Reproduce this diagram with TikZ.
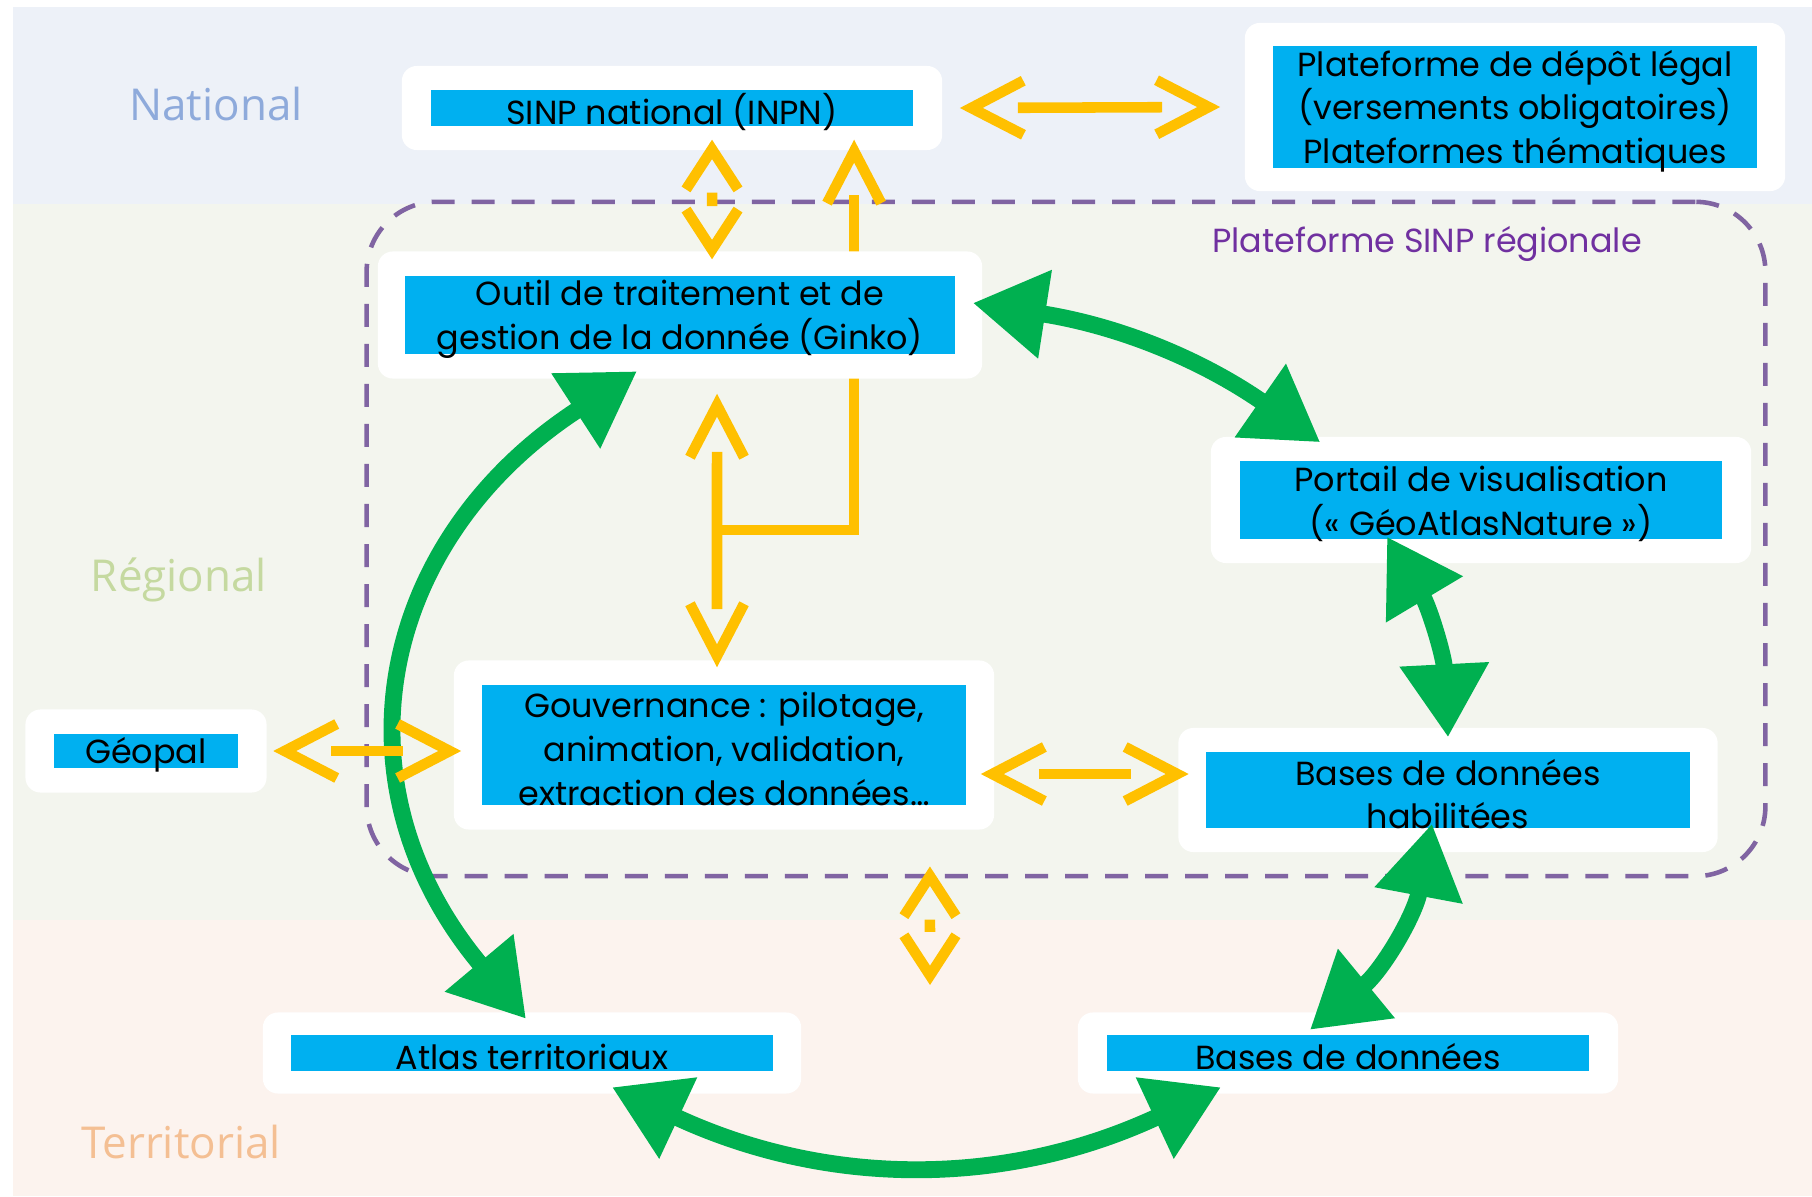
\documentclass[tikz,border=0pt]{standalone}
\usepackage{fontspec}
\setmainfont{Poppins}
\newfontfamily\bandfont{Open Sans}
\usetikzlibrary{arrows.meta,calc,decorations.markings}

\definecolor{natband}{HTML}{EDF1F8}
\definecolor{regband}{HTML}{F3F5EE}
\definecolor{terband}{HTML}{FCF3EE}
\definecolor{natlbl}{HTML}{8EAADB}
\definecolor{reglbl}{HTML}{C5D9A0}
\definecolor{terlbl}{HTML}{F4BF93}
\definecolor{boxblue}{HTML}{00B0F0}
\definecolor{arrgreen}{HTML}{00B050}
\definecolor{arryellow}{HTML}{FFC000}
\definecolor{framepurple}{HTML}{8064A2}
\definecolor{txtpurple}{HTML}{7030A0}

\tikzset{
  ybarb/.tip={Straight Barb[length=0.52cm, width=0.54cm, sharp]},
  ysbarb/.tip={Straight Barb[length=0.4cm, width=0.52cm, sharp]},
  gtri/.tip={Triangle[length=0.73cm, width=0.85cm]},
  wbox/.style={fill=white, rounded corners=0.15cm, inner sep=0pt},
  bbox/.style={fill=boxblue, inner sep=0pt},
  txt/.style={align=center, inner sep=0pt, yshift=-0.04cm, font=\fontsize{9.5}{12.4}\selectfont},
  band/.style={inner sep=0pt, font=\bandfont\fontsize{12.5}{14}\selectfont},
  frame/.style={draw=framepurple, line width=1.3pt, dash pattern=on 0.23cm off 0.17cm, rounded corners=0.7cm, inner sep=0pt},
  glink/.style={draw=arrgreen, line width=4.8pt, {gtri}-{gtri}},
  ylink/.style={draw=arryellow, line width=3pt, shorten <=0.58cm, shorten >=0.58cm,
    postaction={decorate, decoration={markings,
      mark=at position 0 with {\arrowreversed{ybarb}},
      mark=at position 1 with {\arrow{ybarb}}}}},
  ydot/.style={draw=arryellow, line width=3pt, shorten <=0.53cm, shorten >=0.53cm,
    postaction={decorate, decoration={markings,
      mark=at position 0 with {\arrowreversed{ysbarb}},
      mark=at position 1 with {\arrow{ysbarb}}}}},
  yup/.style={draw=arryellow, line width=3pt, shorten >=0.55cm,
    postaction={decorate, decoration={markings,
      mark=at position 1 with {\arrow{ybarb}}}}},
}

\begin{document}
\begin{tikzpicture}[x=0.01cm, y=0.01cm]
  \useasboundingbox (0,0) rectangle (1812,1196);
  % bands
  \fill[natband] (13,992) rectangle (1812,1189);
  \fill[regband] (13,276) rectangle (1812,992);
  \fill[terband] (13,0) rectangle (1812,276);
  \node[band, text=natlbl] (natLbl) at (216,1092) {National};
  \node[band, text=reglbl] (regLbl) at (179,616) {Régional};
  \node[band, text=terlbl] (terLbl) at (181,54) {Territorial};

  % regional platform
  \node[frame, minimum width=13.98cm, minimum height=6.74cm] (plat) at (1066,657) {};
  \node[txt, text=txtpurple] (platLbl) at (1427,956) {Plateforme SINP régionale};

  % boxes
  \node[wbox, minimum width=5.4cm, minimum height=0.84cm] (sinpW) at (672,1088) {};
  \node[bbox, minimum width=4.82cm, minimum height=0.35cm] (sinpB) at (sinpW) {};
  \node[txt] (sinp) at (sinpW) {SINP national (INPN)};

  \node[wbox, minimum width=5.4cm, minimum height=1.68cm] (platW) at (1515,1089) {};
  \node[bbox, minimum width=4.84cm, minimum height=1.22cm] (platB) at (platW) {};
  \node[txt] (depot) at (platW) {Plateforme de dépôt légal\\(versements obligatoires)\\Plateformes thématiques};

  \node[wbox, minimum width=5.4cm, minimum height=1.26cm] (portW) at (1481,696) {};
  \node[bbox, minimum width=4.82cm, minimum height=0.77cm] (portB) at (portW) {};
  \node[txt] (port) at (portW) {Portail de visualisation\\(« GéoAtlasNature »)};

  \node[wbox, minimum width=5.4cm, minimum height=1.69cm] (gouvW) at (724,451) {};
  \node[bbox, minimum width=4.83cm, minimum height=1.19cm] (gouvB) at (gouvW) {};
  \node[txt] (gouv) at (gouvW) {Gouvernance : pilotage,\\animation, validation,\\extraction des données…};

  \node[wbox, minimum width=2.41cm, minimum height=0.83cm] (geoW) at (146,445) {};
  \node[bbox, minimum width=1.84cm, minimum height=0.34cm] (geoB) at (geoW) {};
  \node[txt] (geo) at (geoW) {Géopal};

  \node[wbox, minimum width=5.39cm, minimum height=1.24cm] (habW) at (1448,406) {};
  \node[bbox, minimum width=4.84cm, minimum height=0.75cm] (habB) at (habW) {};
  \node[txt] (hab) at (habW) {Bases de données\\habilitées};

  \node[wbox, minimum width=5.38cm, minimum height=0.81cm] (atlW) at (532,143) {};
  \node[bbox, minimum width=4.82cm, minimum height=0.35cm] (atlB) at (atlW) {};
  \node[txt] (atl) at (atlW) {Atlas territoriaux};

  \node[wbox, minimum width=5.4cm, minimum height=0.81cm] (bddW) at (1348,143) {};
  \node[bbox, minimum width=4.82cm, minimum height=0.35cm] (bddB) at (bddW) {};
  \node[txt] (bdd) at (bddW) {Bases de données};

  % branch to INPN runs under the Ginko box
  \coordinate (fork) at (717,666);
  \draw[yup] (fork) -| ([shift={(1.82cm,0.11cm)}]sinpW.south);

  \node[wbox, minimum width=6.04cm, minimum height=1.27cm] (outW) at (680,881) {};
  \node[bbox, minimum width=5.49cm, minimum height=0.77cm] (outB) at (outW) {};
  \node[txt] (out) at (outW) {Outil de traitement et de\\gestion de la donnée (Ginko)};

  % green links
  \draw[glink] ([shift={(-0.1cm,0.12cm)}]outW.east) to[bend left=13] ([shift={(1.1cm,-0.06cm)}]portW.north west);
  \draw[glink] ([shift={(-0.94cm,0.27cm)}]portW.south) to[bend left=14] ([yshift=-0.1cm]habW.north);
  \draw[glink] ([shift={(-0.16cm,0.29cm)}]habW.south) to[bend left=20] ([shift={(-0.38cm,-0.18cm)}]bddW.north);
  \draw[glink] ([shift={(0.8cm,0.07cm)}]atlW.south) to[bend right=25] ([shift={(-1.27cm,0.07cm)}]bddW.south);
  \draw[glink] ([shift={(-0.43cm,0.08cm)}]outW.south) to[out=213, in=130, looseness=1.2] ([shift={(-0.06cm,-0.07cm)}]atlW.north);

  % yellow links
  \draw[ylink] ([xshift=0.17cm]sinpW.east) -- ([xshift=-0.24cm]platW.west);
  \draw[ydot] ([shift={(0.4cm,0.11cm)}]sinpW.south) -- ([shift={(0.32cm,-0.085cm)}]outW.north);
  \draw[ylink] ([shift={(0.37cm,-0.145cm)}]outW.south) -- ([shift={(-0.07cm,-0.075cm)}]gouvW.north);
  \draw[ylink] ([xshift=0.06cm]geoW.east) -- ([xshift=0.08cm]geoW.east -| gouvW.west);
  \draw[ylink] ([shift={(-0.14cm,-0.29cm)}]gouvW.east) -- ([shift={(0.11cm,-0.29cm)}]gouvW.east -| habW.west);
  \coordinate (terr) at (930,211);
  \draw[ydot] ([shift={(-1.36cm,0.12cm)}]plat.south) -- (terr);
\end{tikzpicture}
\end{document}
